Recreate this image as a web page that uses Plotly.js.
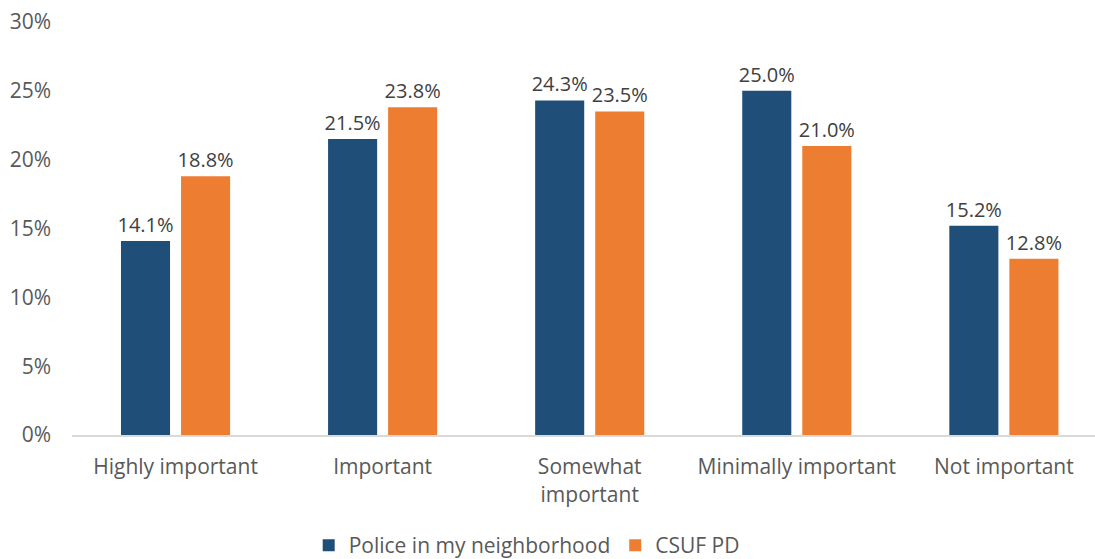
<!DOCTYPE html>
<html><head><meta charset="utf-8">
<script src="https://cdn.plot.ly/plotly-3.0.1.min.js"></script>
<style>html,body{margin:0;padding:0;background:#fff}#c{width:1095px;height:559px}</style>
</head><body><div id="c"></div>
<script>
const categories = ["Highly important", "Important", "Somewhat<br>important", "Minimally important", "Not important"];
const neighborhood = [14.1, 21.5, 24.3, 25.0, 15.2];
const csuf = [18.8, 23.8, 23.5, 21.0, 12.8];
const seriesNames = ["Police in my neighborhood", "CSUF PD"];
const yTicks = [0, 5, 10, 15, 20, 25, 30];

const font = "Open Sans, Liberation Sans, sans-serif";
const fs = 21;
const idx = categories.map((_, i) => i);
const mk = (vals, name, color) => ({
  type: "bar", x: idx, y: vals, name: name,
  marker: {color: color},
  text: vals.map(v => v.toFixed(1) + "%"),
  textposition: "outside", cliponaxis: false, constraintext: "none",
  textfont: {family: font, size: 20, color: "#404040"},
  hoverinfo: "skip"
});
const data = [mk(neighborhood, seriesNames[0], "#1F4E79"), mk(csuf, seriesNames[1], "#ED7D31")];
const layout = {
  width: 1095, height: 559,
  margin: {l: 72, r: 0, t: 22, b: 124, autoexpand: false},
  paper_bgcolor: "#fff", plot_bgcolor: "#fff",
  barmode: "group", bargap: 0.42, bargroupgap: 0.183,
  showlegend: true,
  legend: {orientation: "h", xref: "container", yref: "container", x: 0.481, xanchor: "center",
    y: 0.024, yanchor: "middle",
    font: {family: font, size: fs, color: "#595959"}, traceorder: "normal", itemwidth: 30},
  xaxis: {range: [-0.5, 4.44], tickvals: idx, ticktext: categories, showgrid: false, zeroline: false,
    showline: true, linecolor: "#d9d9d9", linewidth: 2, ticks: "", ticklabelstandoff: 12,
    tickfont: {family: font, size: fs, color: "#595959"}, fixedrange: true},
  yaxis: {range: [0, 30], tickvals: yTicks, ticktext: yTicks.map(v => v + "%"), showgrid: false,
    zeroline: false, showline: false, ticks: "", ticklabelstandoff: 20,
    tickfont: {family: font, size: fs, color: "#595959"}, fixedrange: true}
};
Plotly.newPlot("c", data, layout, {displayModeBar: false, staticPlot: true});
</script></body></html>
